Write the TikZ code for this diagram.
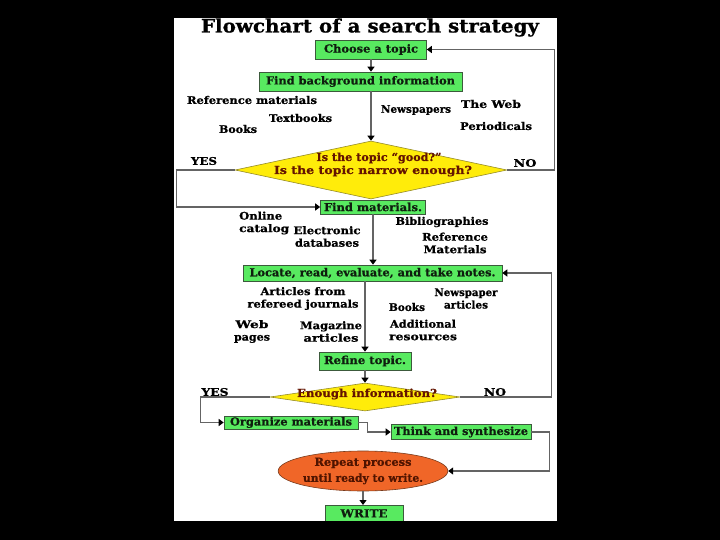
\documentclass[tikz,border=0pt]{standalone}
\usepackage{fontspec}
\setmainfont{DejaVu Serif}[BoldFeatures={FakeBold=0.8}]
\usetikzlibrary{shapes.geometric,arrows.meta}
\newcommand\fw[2]{\resizebox{#1pt}{\height}{#2}}
\definecolor{boxgreen}{RGB}{88,234,96}
\definecolor{boxline}{RGB}{60,90,60}
\definecolor{dyellow}{RGB}{255,236,10}
\definecolor{dyline}{RGB}{150,140,40}
\definecolor{eorange}{RGB}{240,102,40}
\definecolor{eline}{RGB}{120,60,30}
\definecolor{dtext}{RGB}{100,20,0}
\definecolor{etext}{RGB}{80,20,0}
\definecolor{btext}{RGB}{15,30,15}
\definecolor{linegray}{RGB}{100,100,100}
\begin{document}
\begin{tikzpicture}[x=1pt,y=-1pt,
  box/.style={draw=boxline, line width=0.6pt, fill=boxgreen, inner sep=0pt, text=btext,
    font=\bfseries\fontsize{11}{12}\selectfont},
  dia/.style={shape=diamond, draw=dyline, line width=0.6pt, fill=dyellow, inner sep=0pt},
  dtxt/.style={text=dtext, align=center, inner sep=0pt, font=\bfseries\fontsize{11}{13}\selectfont},
  lab/.style={text=black, align=center, inner sep=0pt, font=\bfseries\fontsize{10.5}{12.5}\selectfont},
  yn/.style={text=black, inner sep=0pt, font=\bfseries\fontsize{10.5}{11}\selectfont},
  conn/.style={draw=linegray, line width=1.2pt, -{Triangle[length=5pt,width=7pt,black]}}]
\useasboundingbox (0,0) rectangle (720,540);
\fill[black] (0,0) rectangle (720,540);
\fill[white] (174,18) rectangle (557,521);

% title
\node[inner sep=0pt, font=\bfseries\fontsize{18.5}{20}\selectfont] (title) at (370,27.5) {\fw{338}{Flowchart of a search strategy}};

% boxes
\node[box, minimum width=111, minimum height=19] (choose) at (371,49.5) {\fw{94}{Choose a topic}};
\node[box, minimum width=203, minimum height=19] (background) at (360.5,81.5) {\fw{189}{Find background information}};
\node[dia, minimum width=272, minimum height=58,
  label={[dtxt, xshift=2pt, yshift=5.5pt]center:{\hspace*{12pt}\fw{125}{Is the topic “good?”}\\\fw{198}{Is the topic narrow enough?}}}] (d1) at (371,170) {};
\node[box, minimum width=105, minimum height=14] (findmat) at (373,207) {\fw{98}{Find materials.}};
\node[box, minimum width=259, minimum height=16] (locate) at (372.5,273) {\fw{246}{Locate, read, evaluate, and take notes.}};
\node[box, minimum width=92, minimum height=18] (refine) at (365,361) {\fw{82}{Refine topic.}};
\node[dia, minimum width=190, minimum height=28,
  label={[dtxt, xshift=2pt, yshift=3pt]center:{\fw{140}{Enough information?}}}] (d2) at (365,397) {};
\node[box, minimum width=134, minimum height=13] (organize) at (291,422.5) {\fw{122}{Organize materials}};
\node[box, minimum width=140, minimum height=15] (think) at (461,432) {\fw{134}{Think and synthesize}};
\node[ellipse, draw=eline, line width=0.6pt, fill=eorange, minimum width=154, minimum height=40, inner sep=0pt,
  text=etext, align=center, font=\bfseries\fontsize{11}{16}\selectfont] (repeat) at (363,471)
  {\fw{97}{Repeat process}\\\fw{120}{until ready to write.}};
\node[box, minimum width=78, minimum height=16, anchor=north] (write) at (364,505) {\fw{47}{WRITE}};
\fill[black] (174,521) rectangle (557,540);

% labels
\node[lab] (l1) at (252,100) {\fw{130}{Reference materials}};
\node[lab] (l2) at (300.5,118) {\fw{63}{Textbooks}};
\node[lab] (l3) at (238,129) {\fw{38}{Books}};
\node[lab] (l4) at (416,110) {\fw{70}{Newspapers}};
\node[lab] (l5) at (491,104) {\fw{60}{The Web}};
\node[lab] (l6) at (496,126) {\fw{72}{Periodicals}};

\node[lab, align=left, anchor=west] (l7) at (239,223) {\fw{43}{Online}\\\fw{50}{catalog}};
\node[lab] (l8) at (327,236.5) {\fw{67}{Electronic}\\\fw{64}{databases}};
\node[lab] (l9) at (442,222) {\fw{93}{Bibliographies}};
\node[lab] (l10) at (455,243) {\fw{66}{Reference}\\\fw{63}{Materials}};

\node[lab] (l11) at (303,298.5) {\fw{85}{Articles from}\\\fw{111}{refereed journals}};
\node[lab] (l12) at (466,298.5) {\fw{63}{Newspaper}\\\fw{44}{articles}};
\node[lab] (l13) at (407,307) {\fw{36}{Books}};
\node[lab] (l14) at (252,331.5) {\fw{33}{Web}\\\fw{36}{pages}};
\node[lab] (l15) at (331,331.5) {\fw{62}{Magazine}\\\fw{55}{articles}};
\node[lab] (l16) at (423,330) {\fw{66}{Additional}\\\fw{68}{resources}};

\node[yn] (yes1) at (204,161) {\fw{26}{YES}};
\node[yn] (no1) at (525,163) {\fw{23}{NO}};
\node[yn] (yes2) at (215,392) {\fw{27}{YES}};
\node[yn] (no2) at (495,392) {\fw{22}{NO}};

% connectors
\draw[conn] (choose.south) -- (choose.south |- background.north);
\draw[conn] (background.south -| d1.north) -- (d1.north);
\draw[conn] (d1.west) -- ++(-58,0) |- (findmat.west);
\draw[conn] (d1.east) -- ++(47,0) |- (choose.east);
\draw[conn] (findmat.south) -- (findmat.south |- locate.north);
\draw[conn] (refine.north |- locate.south) -- (refine.north);
\draw[conn] (refine.south) -- (refine.south |- d2.north);
\draw[conn] (d2.west) -- ++(-69,0) |- (organize.west);
\draw[conn] (d2.east) -- ++(91,0) |- (locate.east);
\draw[conn] (organize.east) -- ++(9,0) |- (think.west);
\draw[conn] (think.east) -- ++(18,0) |- (repeat.east);
\draw[conn] (repeat.south) -- (repeat.south |- write.north);
\end{tikzpicture}
\end{document}
